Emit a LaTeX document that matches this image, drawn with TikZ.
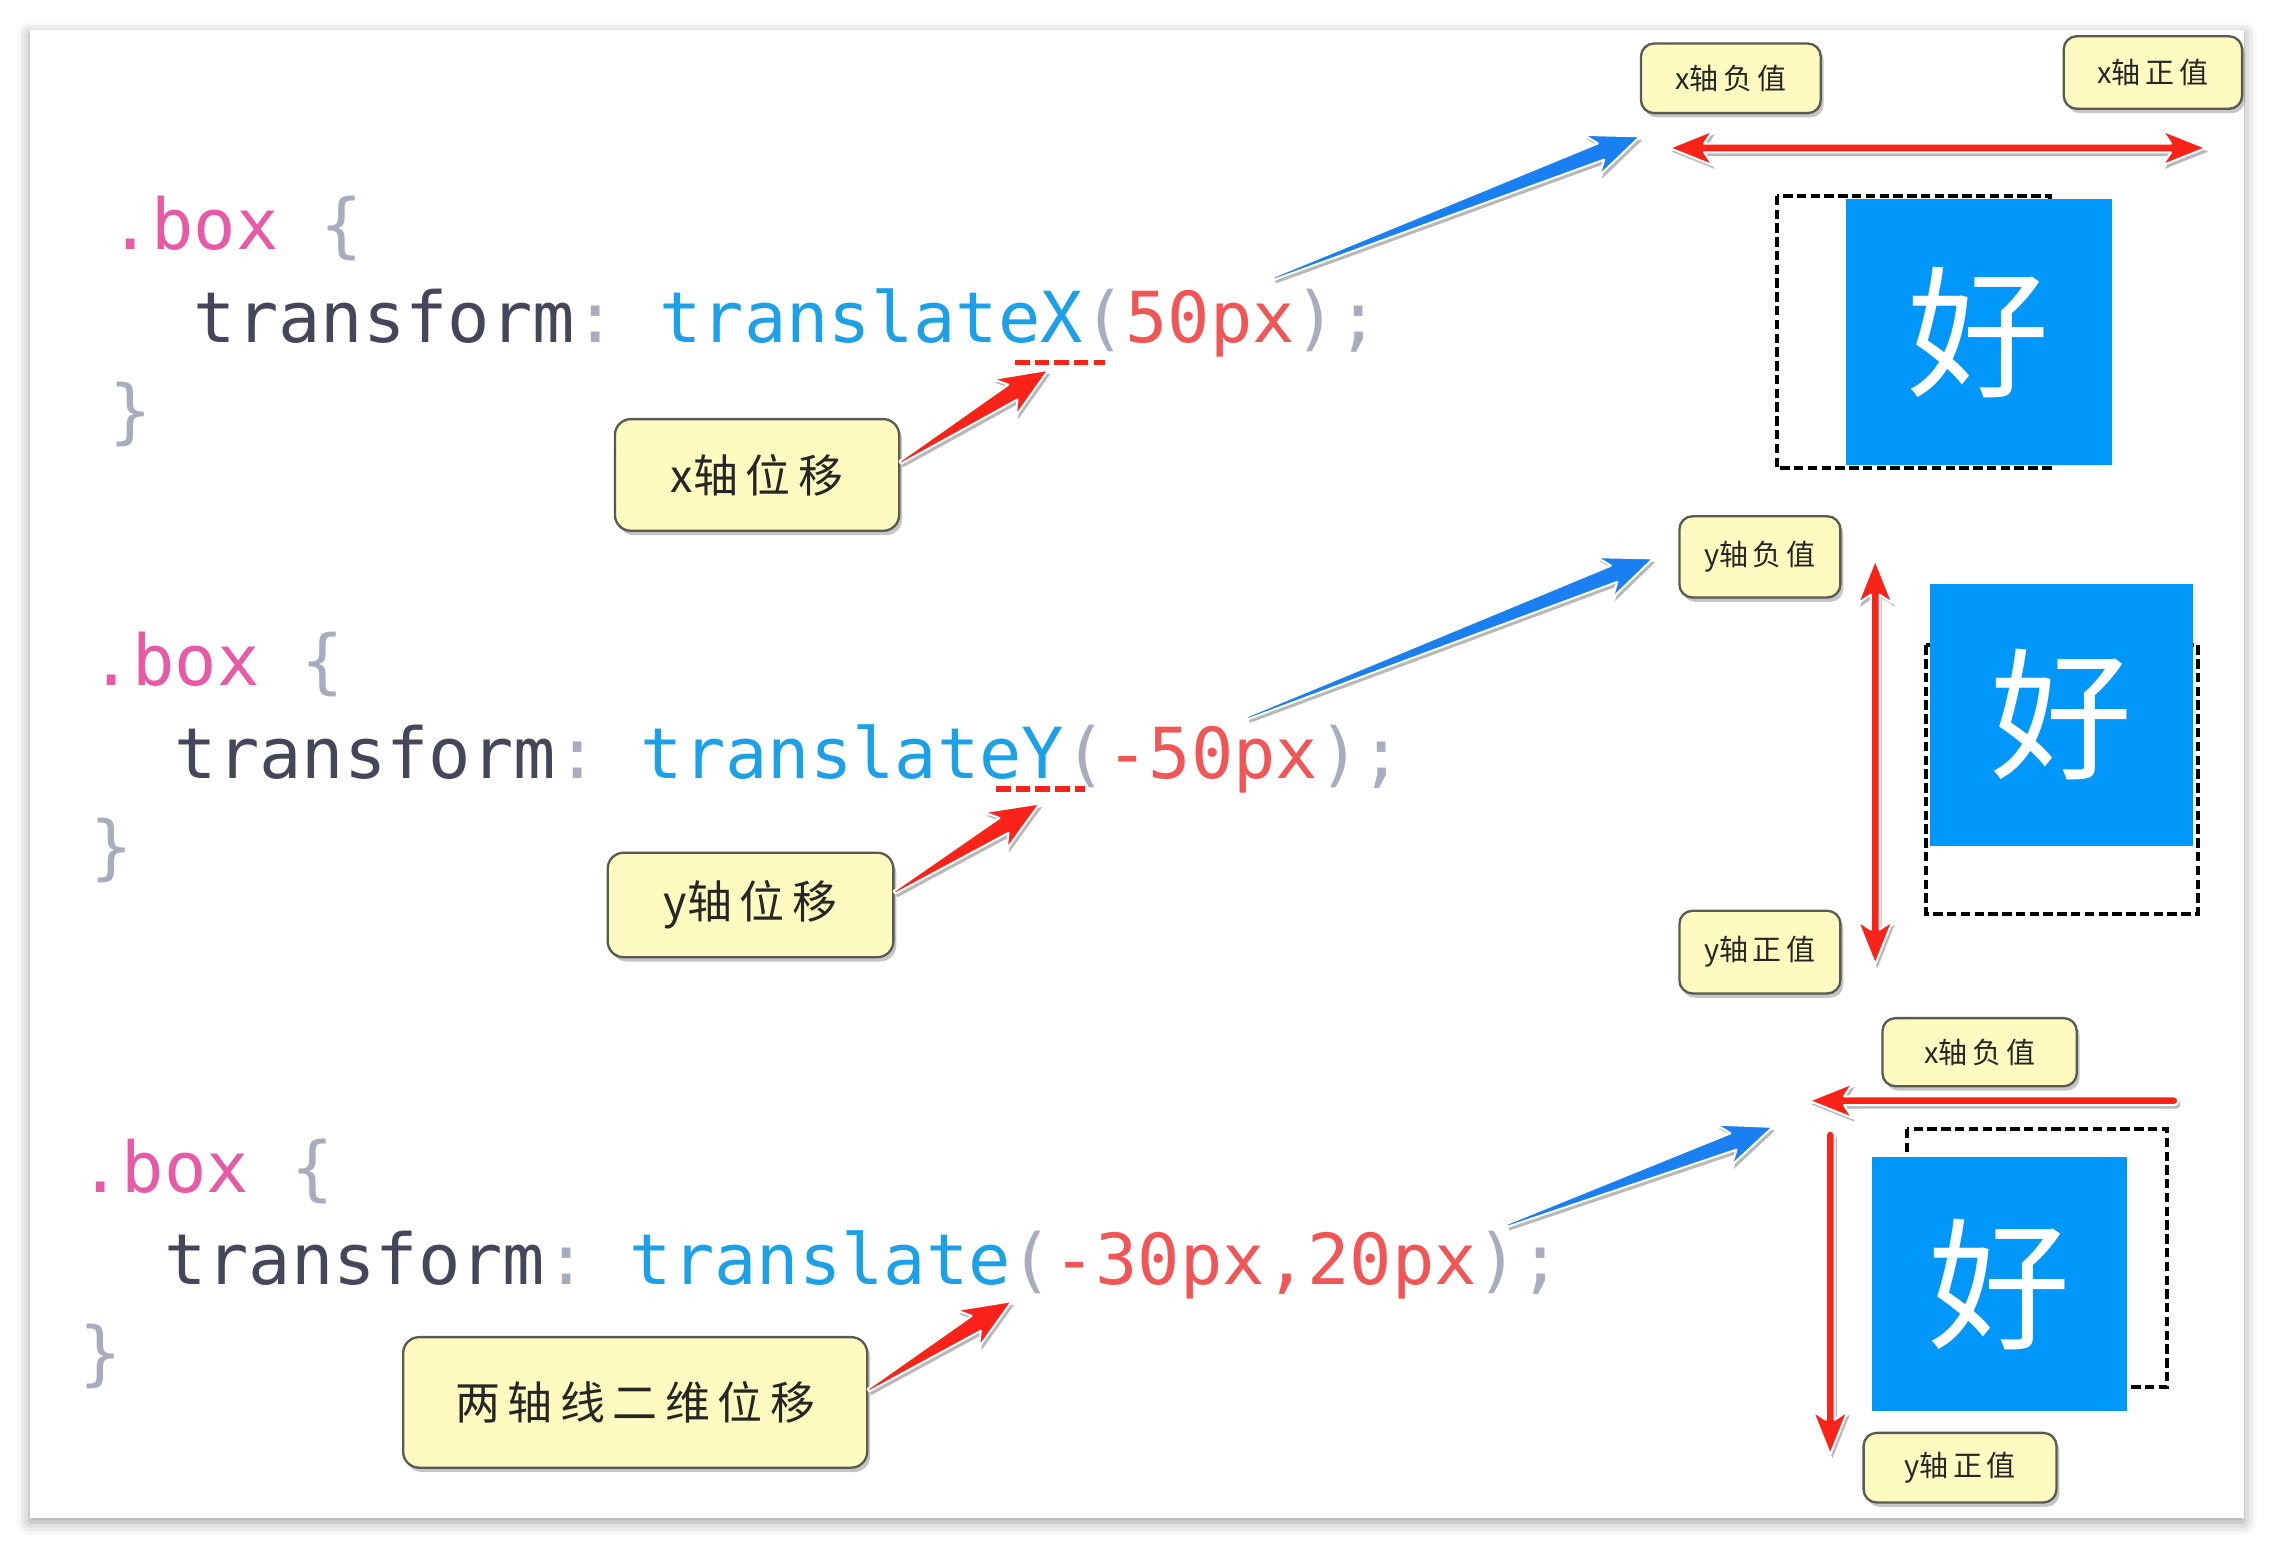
\documentclass[tikz,border=0pt]{standalone}
\usepackage{fontspec}
\setmonofont{DejaVu Sans Mono}
\newfontfamily\cjk{Noto Sans CJK SC}
\usetikzlibrary{calc, shadows, shadows.blur}

\definecolor{cpink}{HTML}{E85AA6}
\definecolor{cgray}{HTML}{A9ACBF}
\definecolor{cdark}{HTML}{45465A}
\definecolor{cblue}{HTML}{1CA0E8}
\definecolor{cred}{HTML}{F25555}
\definecolor{skred}{RGB}{250,35,25}
\definecolor{skblue}{RGB}{26,128,242}
\definecolor{notefill}{HTML}{FDFBC0}
\definecolor{notedraw}{HTML}{5A5A52}
\definecolor{boxblue}{RGB}{0,151,251}

\tikzset{
    code/.style={font=\ttfamily\fontsize{48.5}{58}\selectfont, inner sep=0pt, anchor=base west},
    note/.style={draw=notedraw, line width=1.6pt, fill=notefill, rounded corners=11pt, text=black!85, inner sep=0pt,
        drop shadow={shadow xshift=2pt, shadow yshift=-3pt, opacity=.45}},
    bignote/.style={note, font=\cjk\fontsize{31}{36}\selectfont},
    smallnote/.style={note, rounded corners=9pt, font=\cjk\fontsize{20}{24}\selectfont},
    movebox/.style={fill=boxblue, inner sep=0pt, text=white, font=\cjk\fontsize{98}{100}\selectfont},
    ghost/.style={draw=black, line width=2.8pt, dash pattern=on 6.5pt off 3pt},
    redmark/.style={draw=skred, line width=3.8pt, dash pattern=on 10pt off 3.5pt},
    skedge/.style={draw=white, line width=1.4pt, line join=round},
    skshadow/.style={fill=black, opacity=.28},
}

% angle and length from #1 to #2
\newcommand{\skmeasure}[2]{%
    \path let \p1=(#1), \p2=(#2) in \pgfextra{%
        \pgfmathsetmacro{\skang}{atan2((\y2)-(\y1),(\x2)-(\x1))}%
        \pgfmathsetmacro{\sklen}{veclen((\x2)-(\x1),(\y2)-(\y1))}%
        \global\let\skang\skang\global\let\sklen\sklen};}
% tail, tip, colour, outline
\newcommand{\skdraw}[4]{%
    \skmeasure{#1}{#2}%
    \fill[skshadow, shift={(#1)}, xshift=1.5pt, yshift=-2.5pt, rotate=\skang] #4;
    \filldraw[fill=#3, skedge, shift={(#1)}, rotate=\skang] #4;}
\newcommand{\skarrow}[3]{\skdraw{#1}{#2}{#3}{(0pt,-1pt) -- (\sklen pt-29pt,-6pt) -- (\sklen pt-36pt,-15pt)
    -- (\sklen pt,0pt) -- (\sklen pt-36pt,15pt) -- (\sklen pt-29pt,6pt) -- (0pt,1pt) -- cycle}}
\newcommand{\redone}[2]{\skdraw{#1}{#2}{skred}{(0pt,3pt) arc[start angle=90, end angle=270, radius=3pt]
    -- (\sklen pt-24pt,-3pt) -- (\sklen pt-30pt,-12pt) -- (\sklen pt,0pt) -- (\sklen pt-30pt,12pt)
    -- (\sklen pt-24pt,3pt) -- cycle}}
\newcommand{\redtwo}[2]{\skdraw{#1}{#2}{skred}{(0pt,0pt) -- (30pt,-12pt) -- (24pt,-3pt)
    -- (\sklen pt-24pt,-3pt) -- (\sklen pt-30pt,-12pt) -- (\sklen pt,0pt) -- (\sklen pt-30pt,12pt)
    -- (\sklen pt-24pt,3pt) -- (24pt,3pt) -- (30pt,12pt) -- cycle}}

\begin{document}
\begin{tikzpicture}[x=1pt, y=-1pt]
    \useasboundingbox (0,0) rectangle (1568,1067.4);
    \fill[white, blur shadow={shadow xshift=0pt, shadow yshift=-3pt, shadow blur radius=9pt, shadow opacity=40}]
        (20.7,20.7) rectangle (1547,1046.5);

    % the three rules
    \foreach \bx/\by/\fn/\val [count=\i] in {75/172/translateX/50px, 62/473/translateY/-50px, 54.5/822/translate/{-30px,20px}} {
        \node[code] (sel\i) at (\bx,\by) {\textcolor{cpink}{.box} \textcolor{cgray}{\{}};
        \node[code] (decl\i) at (\bx+58.4,\by+64) {\textcolor{cdark}{transform}\textcolor{cgray}{:} \textcolor{cblue}{\fn}\textcolor{cgray}{(}\textcolor{cred}{\val}\textcolor{cgray}{);}};
        \node[code] (end\i) at (\bx,\by+128) {\textcolor{cgray}{\}}};
    }

    \coordinate (u1a) at (700,250);
    \coordinate (u1b) at (762,250);
    \coordinate (u2a) at (687,544);
    \coordinate (u2b) at (748,544);
    \draw[redmark] (u1a) -- (u1b);
    \draw[redmark] (u2a) -- (u2b);

    % callouts
    \node[bignote, minimum width=196pt, minimum height=77pt] (c1) at (522,327.5) {x轴\,位\,移};
    \node[bignote, minimum width=197pt, minimum height=72pt] (c2) at (517.5,624) {y轴\,位\,移};
    \node[bignote, minimum width=320pt, minimum height=90pt] (c3) at (438,967) {两\,轴\,线\,二\,维\,位\,移};

    \node[smallnote, minimum width=124pt, minimum height=48pt] (neg1) at (1193.5,54) {x轴\,负\,值};
    \node[smallnote, minimum width=123pt, minimum height=50pt] (pos1) at (1484.5,50) {x轴\,正\,值};
    \node[smallnote, minimum width=111pt, minimum height=56pt] (neg2) at (1213.5,384) {y轴\,负\,值};
    \node[smallnote, minimum width=111pt, minimum height=57pt] (pos2) at (1213.5,656.5) {y轴\,正\,值};
    \node[smallnote, minimum width=134pt, minimum height=47pt] (neg3) at (1365,725.5) {x轴\,负\,值};
    \node[smallnote, minimum width=133pt, minimum height=48pt] (pos3) at (1351.5,1012) {y轴\,正\,值};

    % moved boxes
    \draw[ghost] (1225,135) rectangle (1413.5,322.5);
    \node[movebox, minimum width=183pt, minimum height=183pt] (box1) at (1364.5,229) {好};
    \draw[ghost] (1328,445) rectangle (1515.5,630);
    \node[movebox, minimum width=181pt, minimum height=180pt] (box2) at (1421.5,493) {好};
    \draw[ghost] (1315,778.5) rectangle (1494,956.5);
    \node[movebox, minimum width=175.5pt, minimum height=175pt] (box3) at (1378.75,885.5) {好};

    % arrows
    \coordinate (x1tip) at (723,255);
    \coordinate (y1tip) at (717,554);
    \coordinate (xy1tip) at (698,897);
    \skarrow{c1.5}{x1tip}{skred}
    \skarrow{c2.5}{y1tip}{skred}
    \skarrow{c3.3}{xy1tip}{skred}

    \coordinate (b1tail) at (878,192);
    \coordinate (b1tip) at (1131,94);
    \coordinate (b2tail) at (860,495);
    \coordinate (b2tip) at (1140,385);
    \coordinate (b3tail) at (1039,845);
    \coordinate (b3tip) at (1222.5,777);
    \skarrow{b1tail}{b1tip}{skblue}
    \skarrow{b2tail}{b2tip}{skblue}
    \skarrow{b3tail}{b3tip}{skblue}

    \coordinate (r1a) at (1151,102);
    \coordinate (r1b) at (1521,102);
    \coordinate (r2a) at (1293,386);
    \coordinate (r2b) at (1293,665);
    \coordinate (r3a) at (1499,759);
    \coordinate (r3b) at (1247.5,759);
    \coordinate (r4a) at (1262,782.5);
    \coordinate (r4b) at (1262,1003);
    \redtwo{r1a}{r1b}
    \redtwo{r2a}{r2b}
    \redone{r3a}{r3b}
    \redone{r4a}{r4b}
\end{tikzpicture}
\end{document}
